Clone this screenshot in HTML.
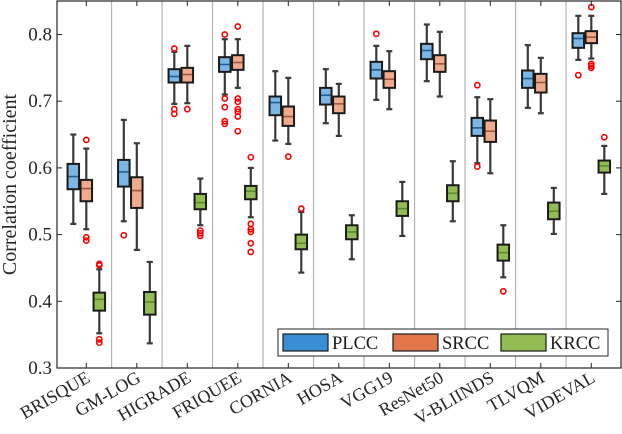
<!DOCTYPE html>
<html><head><meta charset="utf-8"><style>
html,body{margin:0;padding:0;background:#fff;}
svg{display:block;font-family:"Liberation Serif",serif;}
</style></head><body>
<svg id="chart" width="622" height="434" viewBox="0 0 622 434" xmlns="http://www.w3.org/2000/svg">
<rect x="0" y="0" width="622" height="434" fill="#fff"/>
<g id="grid"></g><g id="marks"></g><g id="axes"></g>
</svg>
<script>
const categories=["BRISQUE","GM-LOG","HIGRADE","FRIQUEE","CORNIA","HOSA","VGG19","ResNet50","V-BLIINDS","TLVQM","VIDEVAL"];
const seriesNames=["PLCC","SRCC","KRCC"];
// [whiskerLow, q1, median, q3, whiskerHigh]
const plccStats=[[0.516,0.568,0.587,0.606,0.650],[0.520,0.572,0.594,0.612,0.672],[0.696,0.728,0.737,0.748,0.774],[0.710,0.744,0.755,0.766,0.793],[0.641,0.679,0.698,0.707,0.745],[0.667,0.695,0.709,0.720,0.748],[0.702,0.734,0.747,0.759,0.783],[0.730,0.763,0.776,0.786,0.815],[0.607,0.648,0.660,0.675,0.706],[0.690,0.720,0.734,0.746,0.784],[0.762,0.780,0.794,0.802,0.828]];
const srccStats=[[0.508,0.550,0.569,0.582,0.629],[0.477,0.540,0.566,0.586,0.637],[0.697,0.728,0.740,0.750,0.783],[0.720,0.747,0.758,0.769,0.793],[0.636,0.663,0.677,0.692,0.735],[0.648,0.682,0.696,0.707,0.726],[0.688,0.720,0.733,0.745,0.775],[0.707,0.744,0.756,0.769,0.804],[0.592,0.639,0.655,0.671,0.703],[0.682,0.713,0.728,0.741,0.765],[0.764,0.787,0.796,0.805,0.828]];
const krccStats=[[0.352,0.386,0.403,0.413,0.448],[0.337,0.380,0.399,0.414,0.459],[0.514,0.538,0.548,0.561,0.584],[0.526,0.553,0.565,0.573,0.600],[0.443,0.478,0.487,0.500,0.534],[0.463,0.493,0.504,0.514,0.529],[0.498,0.528,0.539,0.550,0.579],[0.520,0.550,0.562,0.574,0.610],[0.436,0.461,0.473,0.485,0.514],[0.501,0.523,0.535,0.548,0.570],[0.561,0.593,0.603,0.611,0.633]];
const plccOutliers=[[],[0.499],[0.779,0.688,0.681],[0.800,0.704,0.691,0.670,0.666],[],[],[0.801],[],[0.724,0.602],[],[0.739]];
const srccOutliers=[[0.642,0.496,0.491],[],[0.688],[0.812,0.704,0.699,0.688,0.684,0.677,0.655],[0.617],[],[],[],[],[],[0.841,0.756,0.753,0.750]];
const krccOutliers=[[0.456,0.454,0.343,0.338],[],[0.506,0.502,0.498],[0.616,0.516,0.508,0.504,0.487,0.474],[0.539],[],[],[],[0.415],[],[0.646]];
const yTicks=[0.3,0.4,0.5,0.6,0.7,0.8];

const NS="http://www.w3.org/2000/svg";
const L=57,R=621,T=1,B=368;
function yS(v){return B-(v-0.3)*667;}
function xS(i){return 86.3+50.5*i;}
function mk(tag,attrs,parent){const e=document.createElementNS(NS,tag);for(const k in attrs)e.setAttribute(k,attrs[k]);parent.appendChild(e);return e;}
const grid=document.getElementById('grid'),marks=document.getElementById('marks'),axes=document.getElementById('axes');
for(let i=0;i<categories.length-1;i++){
  const x=(xS(i)+xS(i+1))/2;
  const ln=mk('line',{x1:x,x2:x,y1:T,y2:B,stroke:'#b4b4b4','stroke-width':1.2},grid);
  
  
}
const fills=['#7cb6e4','#f0aa8c','#92bd55'];
const meds=['#1f5f94','#a4553a','#5f8a2c'];
const legendFills=['#3a8fd4','#e2774b','#92bd55'];
const allStats=[plccStats,srccStats,krccStats];
const allOut=[plccOutliers,srccOutliers,krccOutliers];
const offs=[-13,0,13];
const bw=11.5;
for(let i=0;i<categories.length;i++){
  for(let s=0;s<3;s++){
    const st=allStats[s][i];const cx=xS(i)+offs[s];
    const g=mk('g',{},marks);
    
    
    mk('line',{x1:cx,x2:cx,y1:yS(st[0]),y2:yS(st[4]),stroke:'#3a3a3a','stroke-width':2.2},g);
    mk('line',{x1:cx-3,x2:cx+3,y1:yS(st[0]),y2:yS(st[0]),stroke:'#3a3a3a','stroke-width':2.2},g);
    mk('line',{x1:cx-3,x2:cx+3,y1:yS(st[4]),y2:yS(st[4]),stroke:'#3a3a3a','stroke-width':2.2},g);
    mk('rect',{x:cx-bw/2,y:yS(st[3]),width:bw,height:yS(st[1])-yS(st[3]),fill:fills[s],stroke:'#1a1a1a','stroke-width':2},g);
    mk('line',{x1:cx-bw/2+1,x2:cx+bw/2-1,y1:yS(st[2]),y2:yS(st[2]),stroke:meds[s],'stroke-width':1.6},g);
    for(const o of allOut[s][i]){
      const c=mk('circle',{cx:cx,cy:yS(o),r:2.6,fill:'none',stroke:'#ff0000','stroke-width':1.6},g);
      
      
    }
  }
}
const frame=mk('rect',{x:L,y:T,width:R-L,height:B-T,fill:'none',stroke:'#262626','stroke-width':1.2},axes);


for(const v of yTicks){
  const y=yS(v);
  mk('line',{x1:L,x2:L+5,y1:y,y2:y,stroke:'#262626','stroke-width':1},axes);
  mk('line',{x1:R-5,x2:R,y1:y,y2:y,stroke:'#262626','stroke-width':1},axes);
  const t=mk('text',{x:L-5,y:y+6,'text-anchor':'end','font-size':19,fill:'#262626'},axes);
  t.textContent=v.toFixed(1);
  
  
}
for(let i=0;i<categories.length;i++){
  const x=xS(i);
  mk('line',{x1:x,x2:x,y1:B,y2:B-5,stroke:'#262626','stroke-width':1},axes);
  mk('line',{x1:x,x2:x,y1:T,y2:T+5,stroke:'#262626','stroke-width':1},axes);
  const t=mk('text',{x:0,y:0,'text-anchor':'end','font-size':18,fill:'#262626',transform:`translate(${x+5},${B+13}) rotate(-30)`},axes);
  t.textContent=categories[i];
  
  
}
const yl=mk('text',{x:0,y:0,'text-anchor':'middle','font-size':20,fill:'#262626',transform:`translate(16,${(T+B)/2}) rotate(-90)`},axes);
yl.textContent='Correlation coefficient';


const lg=mk('g',{},axes);


mk('rect',{x:278,y:329,width:330,height:27,fill:'#fff',stroke:'#262626','stroke-width':1},lg);
const lx=[283,393,501];
for(let s=0;s<3;s++){
  const e=mk('g',{},lg);
  
  
  mk('rect',{x:lx[s],y:334,width:45,height:17,fill:legendFills[s],stroke:'#1a1a1a','stroke-width':1.2},e);
  const t=mk('text',{x:lx[s]+49,y:349,'font-size':18.5,fill:'#1a1a1a'},e);
  t.textContent=seriesNames[s];
}
</script>
</body></html>
